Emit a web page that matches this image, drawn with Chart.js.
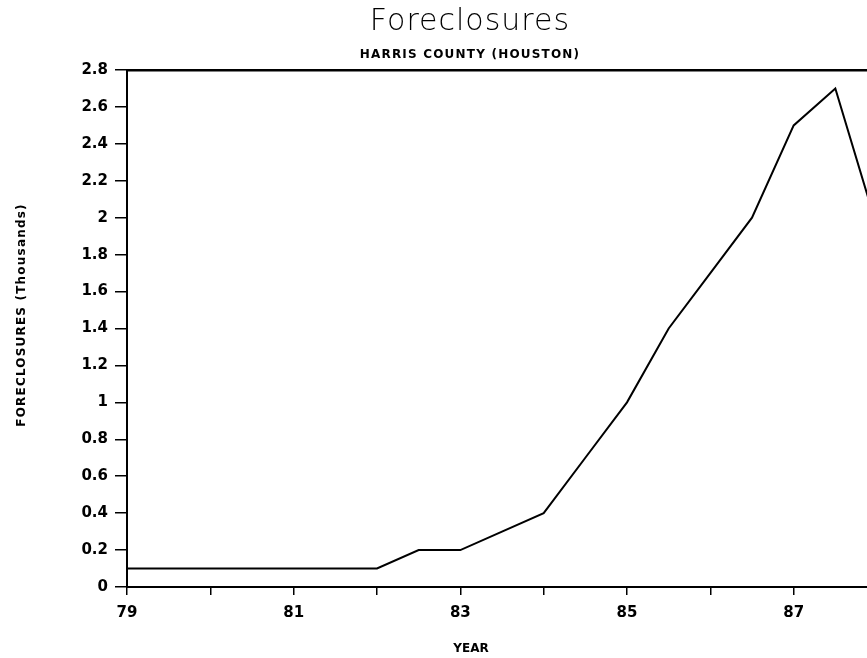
<!DOCTYPE html>
<html>
<head>
<meta charset="utf-8">
<title>Foreclosures - Harris County (Houston)</title>
<script src="https://cdn.jsdelivr.net/npm/chart.js@4.4.1/dist/chart.umd.min.js"></script>
<style>
    html, body { margin: 0; padding: 0; background: #ffffff; }
    #wrap { width: 867px; height: 658px; overflow: hidden; }
</style>
</head>
<body>
<div id="wrap"><canvas id="foreclosures" width="867" height="658"></canvas></div>
<script>
// ============================================================================
// Data (values in thousands)
// ============================================================================

const years = [79, 79.5, 80, 80.5, 81, 81.5, 82, 82.5, 83, 83.5, 84, 84.5, 85, 85.5, 86, 86.5, 87, 87.5, 88];
const foreclosures = [0.1, 0.1, 0.1, 0.1, 0.1, 0.1, 0.1, 0.2, 0.2, 0.3, 0.4, 0.7, 1.0, 1.4, 1.7, 2.0, 2.5, 2.7, 1.95];

const labeledYears = [79, 81, 83, 85, 87];
const yTicks = [0, 0.2, 0.4, 0.6, 0.8, 1, 1.2, 1.4, 1.6, 1.8, 2, 2.2, 2.4, 2.6, 2.8];

const titleText = 'Foreclosures';
const subtitleText = 'HARRIS COUNTY (HOUSTON)';
const xTitleText = 'YEAR';
const yTitleText = 'FORECLOSURES (Thousands)';

// ============================================================================
// Text layer (titles sit off-centre in the original, so draw them directly)
// ============================================================================

const textLayer = {
    id: 'textLayer',
    afterDraw(chart, args, opts) {
        const ctx = chart.ctx;
        ctx.save();
        ctx.fillStyle = '#000';
        ctx.textAlign = 'center';
        ctx.textBaseline = 'alphabetic';

        ctx.font = "200 30px 'DejaVu Sans'";
        ctx.letterSpacing = '1px';
        ctx.fillText(titleText, opts.centerX, 30);

        ctx.font = "bold 12px 'DejaVu Sans'";
        ctx.letterSpacing = '1.2px';
        ctx.fillText(subtitleText, opts.centerX, 58);

        ctx.letterSpacing = '0px';
        ctx.textBaseline = 'middle';
        ctx.fillText(xTitleText, opts.centerX + 1, 649);

        ctx.translate(22, 315);
        ctx.rotate(-Math.PI / 2);
        ctx.letterSpacing = '1.2px';
        ctx.fillText(yTitleText, 0, 0);
        ctx.restore();
    }
};

// ============================================================================
// Chart
// ============================================================================

const axisFont = { family: "'DejaVu Sans'", size: 15, weight: 'bold' };

new Chart(document.getElementById('foreclosures'), {
    type: 'line',
    data: {
        datasets: [{
            data: years.map((y, i) => ({ x: y, y: foreclosures[i] })),
            borderColor: '#000',
            borderWidth: 2,
            pointRadius: 0,
            tension: 0,
            fill: false
        }]
    },
    plugins: [textLayer],
    options: {
        responsive: false,
        animation: false,
        layout: { padding: { top: 70, left: 0, right: 0, bottom: 0 } },
        plugins: {
            legend: { display: false },
            tooltip: { enabled: false },
            textLayer: { centerX: 470 }
        },
        scales: {
            x: {
                type: 'linear',
                min: 79,
                max: 87.88,
                afterFit: s => { s.height = 71; },
                afterBuildTicks: s => { s.ticks = s.ticks.filter(t => Number.isInteger(t.value)); },
                ticks: {
                    stepSize: 1,
                    color: '#000',
                    font: axisFont,
                    padding: 9,
                    maxRotation: 0,
                    autoSkip: false,
                    callback: v => labeledYears.includes(v) ? String(v) : ''
                },
                grid: { drawOnChartArea: false, tickLength: 8, color: '#000', lineWidth: 1.5 },
                border: { display: true, color: '#000', width: 2 }
            },
            xTop: {
                type: 'linear',
                position: 'top',
                min: 79,
                max: 87.88,
                afterFit: s => { s.height = 0; },
                ticks: { display: false },
                grid: { display: false },
                border: { display: true, color: '#000', width: 2.5 }
            },
            y: {
                min: 0,
                max: 2.8,
                afterFit: s => { s.width = 127; },
                afterBuildTicks: s => { s.ticks = yTicks.map(v => ({ value: v })); },
                ticks: {
                    color: '#000',
                    font: axisFont,
                    padding: 7,
                    callback: v => String(Number(v.toFixed(1)))
                },
                grid: { drawOnChartArea: false, tickLength: 12, color: '#000', lineWidth: 1.5 },
                border: { display: true, color: '#000', width: 2 }
            }
        }
    }
});
</script>
</body>
</html>
